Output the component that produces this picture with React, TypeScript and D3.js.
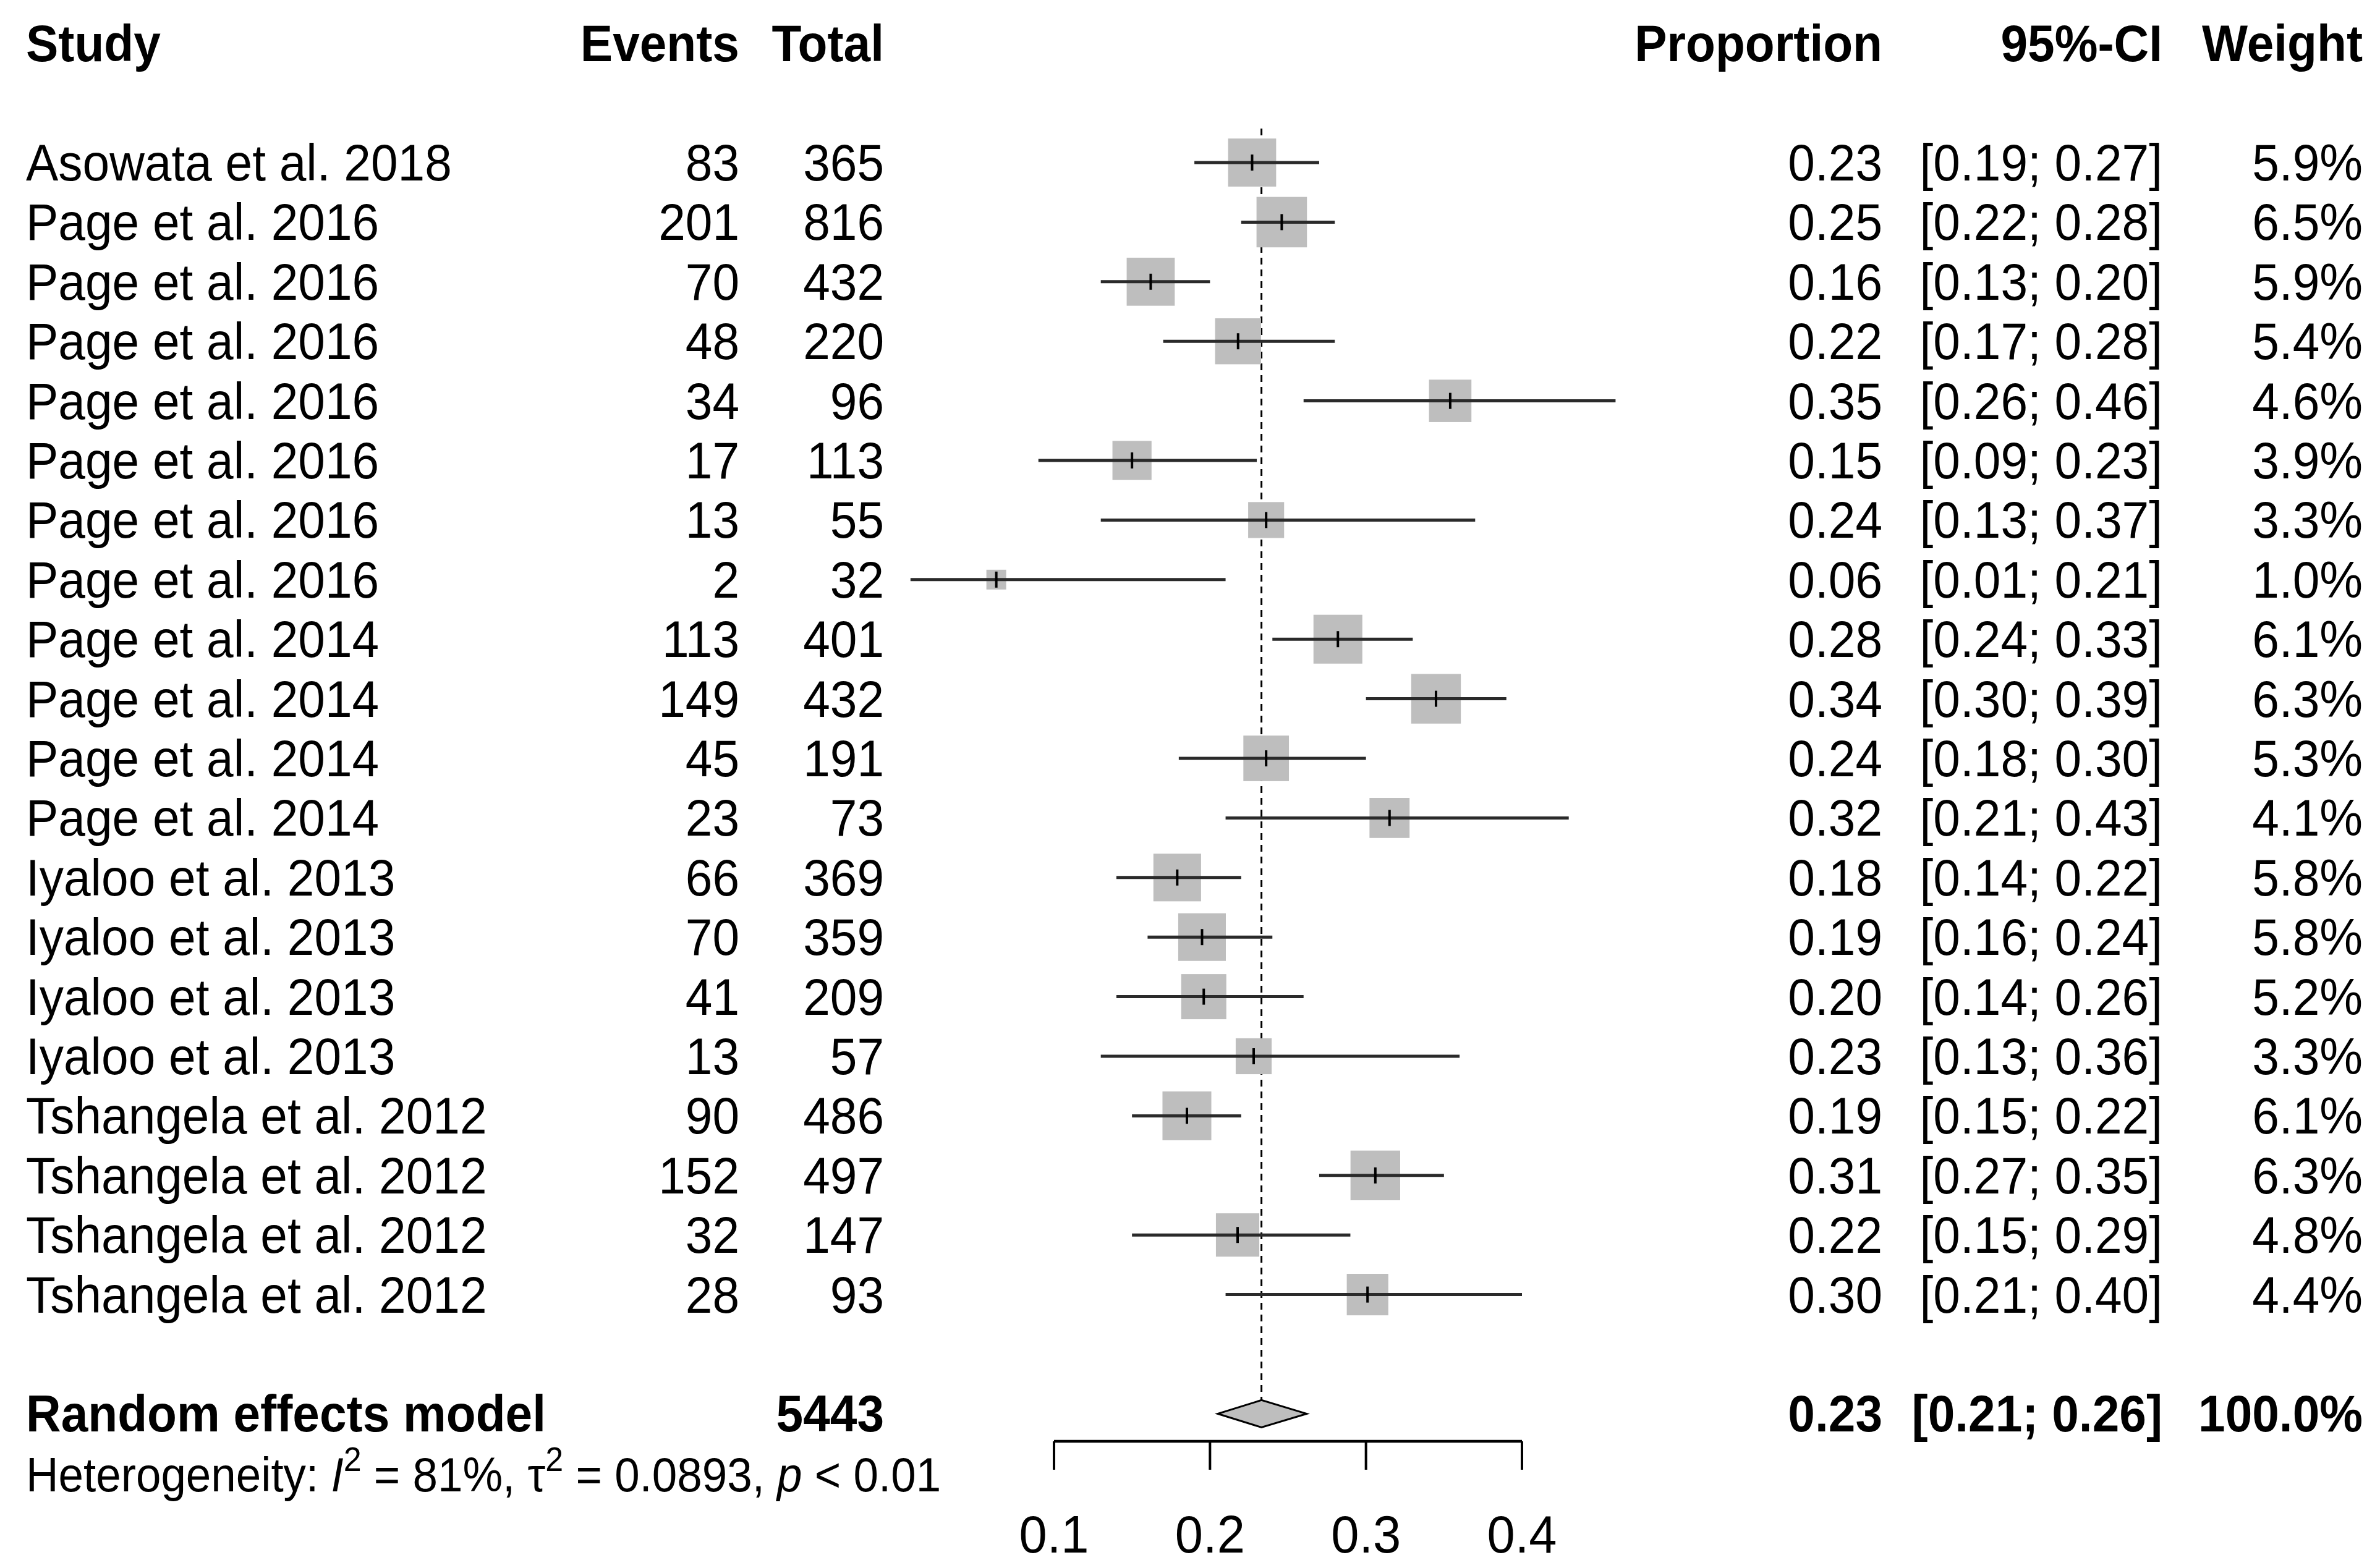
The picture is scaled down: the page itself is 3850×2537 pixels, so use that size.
import React, { useEffect, useRef } from 'react';
import * as d3 from 'd3';

const studies = [
  'Asowata et al. 2018', 'Page et al. 2016', 'Page et al. 2016', 'Page et al. 2016',
  'Page et al. 2016', 'Page et al. 2016', 'Page et al. 2016', 'Page et al. 2016',
  'Page et al. 2014', 'Page et al. 2014', 'Page et al. 2014', 'Page et al. 2014',
  'Iyaloo et al. 2013', 'Iyaloo et al. 2013', 'Iyaloo et al. 2013', 'Iyaloo et al. 2013',
  'Tshangela et al. 2012', 'Tshangela et al. 2012', 'Tshangela et al. 2012', 'Tshangela et al. 2012'
];
const events = [83, 201, 70, 48, 34, 17, 13, 2, 113, 149, 45, 23, 66, 70, 41, 13, 90, 152, 32, 28];
const totals = [365, 816, 432, 220, 96, 113, 55, 32, 401, 432, 191, 73, 369, 359, 209, 57, 486, 497, 147, 93];
const proportion = [0.227, 0.246, 0.162, 0.218, 0.354, 0.150, 0.236, 0.063, 0.282, 0.3449,
  0.236, 0.3151, 0.179, 0.1949, 0.196, 0.228, 0.1852, 0.306, 0.2177, 0.301];
const lower = [0.19, 0.22, 0.13, 0.17, 0.26, 0.09, 0.13, 0.008, 0.24, 0.30,
  0.18, 0.21, 0.14, 0.16, 0.14, 0.13, 0.15, 0.27, 0.15, 0.21];
const upper = [0.27, 0.28, 0.20, 0.28, 0.46, 0.23, 0.37, 0.21, 0.33, 0.39,
  0.30, 0.43, 0.22, 0.24, 0.26, 0.36, 0.22, 0.35, 0.29, 0.40];
const weights = [5.9, 6.5, 5.9, 5.4, 4.6, 3.9, 3.3, 1.0, 6.1, 6.3, 5.3, 4.1, 5.8, 5.8, 5.2, 3.3, 6.1, 6.3, 4.8, 4.4];

const pooled = { est: 0.233, lower: 0.205, upper: 0.262, lowerText: 0.21, upperText: 0.26, total: 5443 };
const xTicks = [0.1, 0.2, 0.3, 0.4];

const W = 3850;
const H = 2537;
const FONT = '"Liberation Sans", Arial, Helvetica, sans-serif';

const App: React.FC = () => {
  const svgRef = useRef<SVGSVGElement>(null);

  useEffect(() => {
    document.body.style.margin = '0';
    document.body.style.overflow = 'hidden';
    if (!svgRef.current) return;
    const svg = d3.select(svgRef.current);
    svg.selectAll('*').remove();

    const fs = 83;
    const sx = 0.945; // the original text is a touch narrower than Liberation Sans
    const x = d3.scaleLinear().domain([0.1, 0.4]).range([1705, 2462]);
    // text baselines of rows, header is row -2, pooled row 21, hetstat 22
    const rowY = d3.scaleLinear().domain([0, 19]).range([292, 292 + 19 * 96.4]);
    const midY = (i: number) => rowY(i) - 29;
    const box = d3.scaleSqrt().domain([0, 6.5]).range([0, 81.6]);

    const col = { study: 42, events: 1196, total: 1430, prop: 3045, ci: 3498, weight: 3822 };

    const text = (xx: number, yy: number, s: string, anchor = 'end', bold = false, size = fs) =>
      svg.append('text')
        .attr('transform', `translate(${xx},${yy}) scale(${sx},1)`)
        .attr('text-anchor', anchor)
        .style('font-family', FONT)
        .style('font-size', `${size}px`)
        .style('font-weight', bold ? 'bold' : 'normal')
        .attr('fill', '#000')
        .text(s);

    // header
    const hy = rowY(-2);
    text(col.study, hy, 'Study', 'start', true);
    text(col.events, hy, 'Events', 'end', true);
    text(col.total, hy, 'Total', 'end', true);
    text(col.prop, hy, 'Proportion', 'end', true);
    text(col.ci, hy, '95%-CI', 'end', true);
    text(col.weight, hy, 'Weight', 'end', true);

    // reference line at pooled estimate
    svg.append('line')
      .attr('x1', x(pooled.est)).attr('x2', x(pooled.est))
      .attr('y1', 208).attr('y2', midY(21) - 22)
      .attr('stroke', '#000')
      .attr('stroke-width', 3)
      .attr('stroke-dasharray', '11,8');

    studies.forEach((s, i) => {
      const y = rowY(i);
      text(col.study, y, s, 'start');
      text(col.events, y, String(events[i]));
      text(col.total, y, String(totals[i]));
      text(col.prop, y, proportion[i].toFixed(2));
      text(col.ci, y, `[${lower[i].toFixed(2)}; ${upper[i].toFixed(2)}]`);
      text(col.weight, y, `${weights[i].toFixed(1)}%`);

      const cy = midY(i);
      const side = box(weights[i]);
      svg.append('rect')
        .attr('x', x(proportion[i]) - side / 2)
        .attr('y', cy - side / 2)
        .attr('width', side)
        .attr('height', side)
        .attr('fill', '#bebebe');
      svg.append('line')
        .attr('x1', x(lower[i])).attr('x2', x(upper[i]))
        .attr('y1', cy).attr('y2', cy)
        .attr('stroke', '#2a2a2a')
        .attr('stroke-width', 5);
      svg.append('line')
        .attr('x1', x(proportion[i])).attr('x2', x(proportion[i]))
        .attr('y1', cy - 13).attr('y2', cy + 13)
        .attr('stroke', '#000')
        .attr('stroke-width', 4);
    });

    // pooled row
    const py = rowY(21);
    text(col.study, py, 'Random effects model', 'start', true);
    text(col.total, py, String(pooled.total), 'end', true);
    text(col.prop, py, pooled.est.toFixed(2), 'end', true);
    text(col.ci, py, `[${pooled.lowerText.toFixed(2)}; ${pooled.upperText.toFixed(2)}]`, 'end', true);
    text(col.weight, py, '100.0%', 'end', true);

    const pcy = midY(21);
    const diamond = [
      [x(pooled.lower), pcy],
      [x(pooled.est), pcy - 22],
      [x(pooled.upper), pcy],
      [x(pooled.est), pcy + 22]
    ] as [number, number][];
    svg.append('path')
      .attr('d', d3.line()(diamond) + 'Z')
      .attr('fill', '#bebebe')
      .attr('stroke', '#000')
      .attr('stroke-width', 3);

    // heterogeneity
    const het = svg.append('text')
      .attr('transform', `translate(${col.study},${rowY(22)}) scale(${sx},1)`)
      .style('font-family', FONT)
      .style('font-size', '77px')
      .attr('fill', '#000');
    het.append('tspan').text('Heterogeneity: ');
    het.append('tspan').style('font-style', 'italic').text('I');
    het.append('tspan').attr('dy', -33).style('font-size', '55px').text('2');
    het.append('tspan').attr('dy', 33).text(' = 81%, τ');
    het.append('tspan').attr('dy', -33).style('font-size', '55px').text('2');
    het.append('tspan').attr('dy', 33).text(' = 0.0893, ');
    het.append('tspan').style('font-style', 'italic').text('p');
    het.append('tspan').text(' < 0.01');

    // x axis
    const axisY = 2332;
    const axis = svg.append('g');
    axis.append('line')
      .attr('x1', x(xTicks[0])).attr('x2', x(xTicks[xTicks.length - 1]))
      .attr('y1', axisY).attr('y2', axisY)
      .attr('stroke', '#000').attr('stroke-width', 4.5);
    xTicks.forEach(t => {
      axis.append('line')
        .attr('x1', x(t)).attr('x2', x(t))
        .attr('y1', axisY).attr('y2', axisY + 46)
        .attr('stroke', '#000').attr('stroke-width', 4);
      text(x(t), 2512, String(t), 'middle', false, 86);
    });
  }, []);

  return (
    <svg
      ref={svgRef}
      width={W}
      height={H}
      viewBox={`0 0 ${W} ${H}`}
      style={{ position: 'absolute', left: 0, top: 0, background: '#fff', display: 'block' }}
    />
  );
};

export default App;
